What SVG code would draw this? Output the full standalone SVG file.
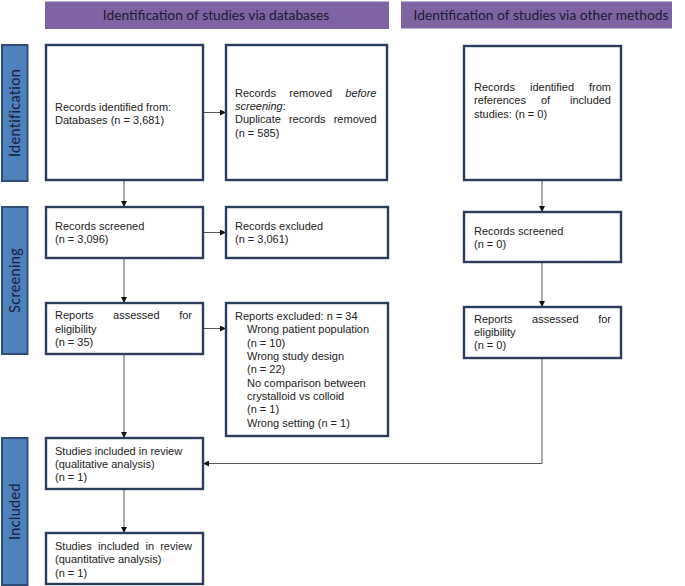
<svg xmlns="http://www.w3.org/2000/svg" width="685" height="586" viewBox="0 0 685 586">
<style>
.hdr{fill:#8063a3;}
.hdrt{font-family:Lato,"Liberation Sans",sans-serif;font-size:13.8px;fill:#1a1a2e;text-anchor:middle;}
.stage{fill:#4f81bd;stroke:#2e4e7a;stroke-width:2;}
.stt{font-family:Lato,"Liberation Sans",sans-serif;font-size:14.5px;fill:#15203a;text-anchor:middle;letter-spacing:0.3px;}
.box{fill:#fff;stroke:#2b3d5c;stroke-width:2.4;}
.t{font-family:"Liberation Sans",Arial,sans-serif;font-size:11px;fill:#222;}
.e{text-anchor:end;}
.i{font-style:italic;}
.c{fill:none;stroke:#555;stroke-width:1;}
</style>
<defs>
<marker id="ah" viewBox="0 0 10 10" refX="10" refY="5" markerWidth="7" markerHeight="6" markerUnits="userSpaceOnUse" orient="auto">
<path d="M0,0 L10,5 L0,10 z" fill="#111"/>
</marker>
</defs>

<g id="header-databases"><rect class="hdr" x="45" y="1.5" width="344" height="27.5"/><text class="hdrt" x="216" y="20">Identification of studies via databases</text></g>
<g id="header-other"><rect class="hdr" x="401" y="1.5" width="271" height="27"/><text class="hdrt" x="541" y="20">Identification of studies via other methods</text></g>

<g id="stage-identification"><rect class="stage" x="2" y="45" width="25.5" height="136"/><text class="stt" transform="translate(19.5,113) rotate(-90)">Identification</text></g>
<g id="stage-screening"><rect class="stage" x="2" y="207" width="25.5" height="147"/><text class="stt" transform="translate(19.5,280.5) rotate(-90)">Screening</text></g>
<g id="stage-included"><rect class="stage" x="2" y="438" width="25.5" height="147"/><text class="stt" transform="translate(19.5,511.5) rotate(-90)">Included</text></g>

<g id="connectors">
<line class="c" x1="124" y1="180" x2="124" y2="207" marker-end="url(#ah)"/>
<line class="c" x1="203" y1="112.5" x2="226" y2="112.5" marker-end="url(#ah)"/>
<line class="c" x1="203" y1="232.5" x2="226" y2="232.5" marker-end="url(#ah)"/>
<line class="c" x1="124" y1="258" x2="124" y2="303" marker-end="url(#ah)"/>
<line class="c" x1="203" y1="328.5" x2="226" y2="328.5" marker-end="url(#ah)"/>
<line class="c" x1="124" y1="354" x2="124" y2="438" marker-end="url(#ah)"/>
<line class="c" x1="124" y1="489" x2="124" y2="533" marker-end="url(#ah)"/>
<line class="c" x1="542" y1="180" x2="542" y2="212" marker-end="url(#ah)"/>
<line class="c" x1="542" y1="262" x2="542" y2="307" marker-end="url(#ah)"/>
<polyline class="c" points="542,358 542,463.5 203,463.5" marker-end="url(#ah)"/>
</g>

<g id="records-identified"><rect class="box" x="46" y="45" width="157" height="135"/>
<text class="t" x="55" y="110.5">Records identified from:</text>
<text class="t" x="55" y="124">Databases (n = 3,681)</text></g>

<g id="records-removed"><rect class="box" x="226" y="45" width="161" height="135"/>
<text class="t" x="235" y="96.6">Records</text><text class="t" x="289.3" y="96.6">removed</text><text class="t e i" x="376.5" y="96.6">before</text>
<text class="t" x="235" y="110"><tspan class="i">screening</tspan>:</text>
<text class="t" x="235" y="123.3">Duplicate</text><text class="t" x="288.9" y="123.3">records</text><text class="t e" x="376.5" y="123.3">removed</text>
<text class="t" x="235" y="136.6">(n = 585)</text></g>

<g id="records-other"><rect class="box" x="464" y="46" width="157" height="134"/>
<text class="t" x="474" y="91">Records</text><text class="t" x="530" y="91">identified</text><text class="t e" x="611" y="91">from</text>
<text class="t" x="474" y="104.3">references</text><text class="t" x="541" y="104.3">of</text><text class="t e" x="611" y="104.3">included</text>
<text class="t" x="474" y="117.6">studies: (n = 0)</text></g>

<g id="records-screened"><rect class="box" x="46" y="207" width="157" height="51"/>
<text class="t" x="55" y="230">Records screened</text>
<text class="t" x="55" y="243.3">(n = 3,096)</text></g>

<g id="records-excluded"><rect class="box" x="226" y="207" width="162" height="51"/>
<text class="t" x="235" y="230">Records excluded</text>
<text class="t" x="235" y="243.3">(n = 3,061)</text></g>

<g id="records-screened-other"><rect class="box" x="464" y="212" width="157" height="50"/>
<text class="t" x="474" y="234.6">Records screened</text>
<text class="t" x="474" y="248">(n = 0)</text></g>

<g id="reports-assessed"><rect class="box" x="46" y="303" width="157" height="51"/>
<text class="t" x="55" y="319.2">Reports</text><text class="t" x="113.1" y="319.2">assessed</text><text class="t e" x="192" y="319.2">for</text>
<text class="t" x="55" y="332.6">eligibility</text>
<text class="t" x="55" y="346">(n = 35)</text></g>

<g id="reports-excluded"><rect class="box" x="226" y="303" width="162" height="133"/>
<text class="t" x="235" y="320">Reports excluded: n = 34</text>
<text class="t" x="247" y="333.3">Wrong patient population</text>
<text class="t" x="247" y="346.7">(n = 10)</text>
<text class="t" x="247" y="360">Wrong study design</text>
<text class="t" x="247" y="373.3">(n = 22)</text>
<text class="t" x="247" y="386.7">No comparison between</text>
<text class="t" x="247" y="400">crystalloid vs colloid</text>
<text class="t" x="247" y="413.3">(n = 1)</text>
<text class="t" x="247" y="426.7">Wrong setting (n = 1)</text></g>

<g id="reports-assessed-other"><rect class="box" x="464" y="307" width="157" height="51"/>
<text class="t" x="474" y="322.6">Reports</text><text class="t" x="532.1" y="322.6">assessed</text><text class="t e" x="611" y="322.6">for</text>
<text class="t" x="474" y="336">eligibility</text>
<text class="t" x="474" y="349.3">(n = 0)</text></g>

<g id="included-qualitative"><rect class="box" x="46" y="438" width="157" height="51"/>
<text class="t" x="55" y="454.6">Studies included in review</text>
<text class="t" x="55" y="468">(qualitative analysis)</text>
<text class="t" x="55" y="481.3">(n = 1)</text></g>

<g id="included-quantitative"><rect class="box" x="46" y="533" width="157" height="51"/>
<text class="t" x="55" y="550">Studies</text><text class="t" x="98.1" y="550">included</text><text class="t" x="145.5" y="550">in</text><text class="t e" x="192" y="550">review</text>
<text class="t" x="55" y="563.3">(quantitative analysis)</text>
<text class="t" x="55" y="576.6">(n = 1)</text></g>
</svg>
